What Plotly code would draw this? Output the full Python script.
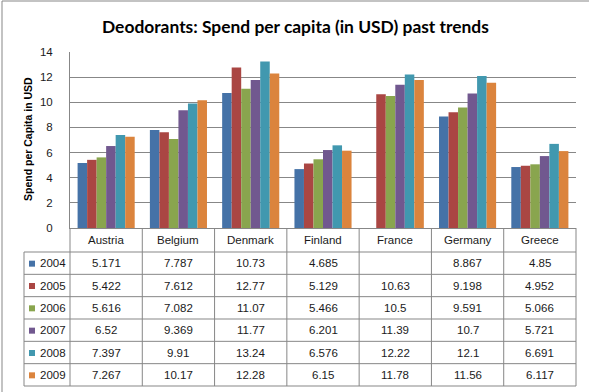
import plotly.graph_objects as go

countries = ["Austria", "Belgium", "Denmark", "Finland", "France", "Germany", "Greece"]
years = ["2004", "2005", "2006", "2007", "2008", "2009"]
v2004 = [5.171, 7.787, 10.73, 4.685, None, 8.867, 4.85]
v2005 = [5.422, 7.612, 12.77, 5.129, 10.63, 9.198, 4.952]
v2006 = [5.616, 7.082, 11.07, 5.466, 10.5, 9.591, 5.066]
v2007 = [6.52, 9.369, 11.77, 6.201, 11.39, 10.7, 5.721]
v2008 = [7.397, 9.91, 13.24, 6.576, 12.22, 12.1, 6.691]
v2009 = [7.267, 10.17, 12.28, 6.15, 11.78, 11.56, 6.117]
series = [v2004, v2005, v2006, v2007, v2008, v2009]
colors = ["#4572A7", "#AA4643", "#89A54E", "#71588F", "#4198AF", "#DB843D"]
y_ticks = [0, 2, 4, 6, 8, 10, 12, 14]

title = "Deodorants: Spend per capita (in USD) past trends"
y_title = "Spend per Capita in USD"

W, H = 589, 392
L, R, T, B = 70, 576, 52, 228
pw, ph = R - L, B - T


def px(x):
    return (x - L) / pw


def py(y):
    return (B - y) / ph


GRID = "#878787"
FONT = "Liberation Sans"
TXT = "#1a1a1a"

fig = go.Figure()
for yr, vals, col in zip(years, series, colors):
    fig.add_trace(go.Bar(x=countries, y=vals, name=yr, marker=dict(color=col, line=dict(width=0))))

shapes = []
annotations = []

# outer chart border (left and top visible)
shapes.append(dict(type="line", xref="paper", yref="paper", x0=px(2), x1=px(2), y0=py(392), y1=py(1), line=dict(color=GRID, width=1)))
shapes.append(dict(type="line", xref="paper", yref="paper", x0=px(2), x1=px(589), y0=py(1), y1=py(1), line=dict(color=GRID, width=1)))

# table geometry
n = len(countries)
head_bot = 252
row_h = (386 - head_bot) / len(years)
row_bounds = [head_bot + row_h * k for k in range(len(years) + 1)]
leg_left = 24

for k in range(n + 1):
    xk = k / n
    shapes.append(dict(type="line", xref="paper", yref="paper", x0=xk, x1=xk, y0=py(row_bounds[-1]), y1=py(B), line=dict(color=GRID, width=1)))
shapes.append(dict(type="line", xref="paper", yref="paper", x0=px(leg_left), x1=px(leg_left), y0=py(row_bounds[-1]), y1=py(head_bot), line=dict(color=GRID, width=1)))
for yb in row_bounds:
    shapes.append(dict(type="line", xref="paper", yref="paper", x0=px(leg_left), x1=1, y0=py(yb), y1=py(yb), line=dict(color=GRID, width=1)))

for i, c in enumerate(countries):
    annotations.append(dict(x=(i + 0.5) / n, y=py((B + head_bot) / 2), xref="paper", yref="paper", text=c, showarrow=False,
                            font=dict(family=FONT, size=11.5, color=TXT), xanchor="center", yanchor="middle"))

for r, (yr, vals, col) in enumerate(zip(years, series, colors)):
    yc = (row_bounds[r] + row_bounds[r + 1]) / 2
    shapes.append(dict(type="rect", xref="paper", yref="paper", x0=px(29), x1=px(35), y0=py(yc + 3.5), y1=py(yc - 2.5),
                       fillcolor=col, line=dict(width=0)))
    annotations.append(dict(x=px(38), y=py(yc), xref="paper", yref="paper", text=yr, showarrow=False,
                            font=dict(family=FONT, size=11.5, color=TXT), xanchor="left", yanchor="middle"))
    for i, v in enumerate(vals):
        if v is None:
            continue
        annotations.append(dict(x=(i + 0.5) / n, y=py(yc), xref="paper", yref="paper", text=str(v), showarrow=False,
                                font=dict(family=FONT, size=11.5, color=TXT), xanchor="center", yanchor="middle"))

annotations.append(dict(x=px(295.5), y=py(26), xref="paper", yref="paper", text="<b>" + title + "</b>", showarrow=False,
                        font=dict(family="Lato", size=17.4, color="#000"), xanchor="center", yanchor="middle"))
annotations.append(dict(x=px(27.5), y=py(139.5), xref="paper", yref="paper", text="<b>" + y_title + "</b>", showarrow=False,
                        textangle=-90, font=dict(family=FONT, size=10.5, color="#000"), xanchor="center", yanchor="middle"))

fig.update_layout(
    width=W, height=H,
    margin=dict(l=L, r=W - R, t=T, b=H - B, pad=0),
    paper_bgcolor="white", plot_bgcolor="white",
    barmode="group", bargap=0.21, bargroupgap=0,
    showlegend=False,
    xaxis=dict(showticklabels=False, showgrid=False, showline=True, linecolor=GRID, linewidth=1, ticks="", zeroline=False),
    yaxis=dict(range=[0, 14], tickvals=y_ticks, showgrid=True, gridcolor=GRID, gridwidth=1, showline=True, linecolor=GRID,
               linewidth=1, ticks="", zeroline=False, ticklabelstandoff=14,
               tickfont=dict(family=FONT, size=11.5, color=TXT)),
    shapes=shapes,
    annotations=annotations,
)

fig.write_html("out.html", config={"displayModeBar": False},
               post_script="document.body.style.margin='0';document.body.style.overflow='hidden';")
